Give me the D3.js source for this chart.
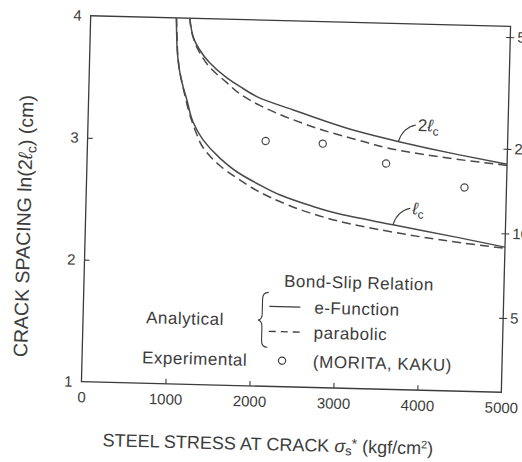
<!DOCTYPE html>
<html>
<head>
<meta charset="utf-8">
<script src="https://cdn.jsdelivr.net/npm/d3@7"></script>
<style>
  body { margin: 0; background: #fff; }
  svg text { font-family: "Liberation Sans", Arial, sans-serif; fill: #3c3c3c; }
</style>
</head>
<body>
<div id="chart"></div>
<script>
// tick values
const xTicks = [0, 1000, 2000, 3000, 4000, 5000];
const yTicks = [1, 2, 3, 4];
const rightTicks = [50, 20, 10, 5];   // 2lc in cm, placed at ln(value)

// [steel stress kgf/cm2, ln(2lc)]
const lc_eFunction = [[1020, 4.0], [1030, 3.85], [1042, 3.72], [1070, 3.58], [1120, 3.44], [1170, 3.33],
  [1250, 3.15], [1370, 3.01], [1580, 2.86], [1790, 2.75], [2030, 2.66], [2310, 2.57], [2670, 2.49],
  [3000, 2.43], [3660, 2.35], [4430, 2.26], [5000, 2.19]];
const lc_parabolic = [[1022, 4.0], [1034, 3.85], [1048, 3.70], [1080, 3.55], [1140, 3.38], [1200, 3.23],
  [1280, 3.08], [1380, 2.94], [1580, 2.80], [1790, 2.70], [2190, 2.55], [2670, 2.43], [3000, 2.37],
  [3660, 2.29], [4430, 2.22], [5000, 2.18]];
const twoLc_eFunction = [[1180, 4.0], [1200, 3.92], [1225, 3.85], [1300, 3.75], [1430, 3.64], [1640, 3.52],
  [1800, 3.45], [2040, 3.36], [2440, 3.27], [2800, 3.19], [3200, 3.11], [3720, 3.03], [4400, 2.94], [5000, 2.87]];
const twoLc_parabolic = [[1180, 4.0], [1210, 3.88], [1300, 3.73], [1450, 3.59], [1640, 3.48], [1800, 3.39],
  [2040, 3.30], [2400, 3.20], [2800, 3.11], [3200, 3.04], [3720, 2.96], [4400, 2.90], [5000, 2.86]];
// experimental (MORITA, KAKU)
const experimental = [[2120, 3.01], [2800, 3.00], [3560, 2.85], [4500, 2.67]];

const margin = {top: 21, right: 16, bottom: 75, left: 86};
const W = 522, H = 462;
const width = W - margin.left - margin.right;
const height = H - margin.top - margin.bottom;
const ink = "#3c3c3c";

const svg = d3.select("#chart").append("svg")
  .attr("width", W)
  .attr("height", H);

// the scanned figure is slightly tilted
const root = svg.append("g")
  .attr("transform", `rotate(1.45, ${margin.left + width / 2}, ${margin.top + height / 2})`);

const g = root.append("g")
  .attr("transform", `translate(${margin.left},${margin.top})`);

const x = d3.scaleLinear().domain([0, 5000]).range([0, width]);
const y = d3.scaleLinear().domain([1, 4]).range([height, 0]);

// frame
g.append("rect")
  .attr("width", width)
  .attr("height", height)
  .attr("fill", "none")
  .attr("stroke", ink)
  .attr("stroke-width", 1.3);

// bottom axis: inner ticks, labels below
const xAxis = g.append("g")
  .attr("transform", `translate(0,${height})`)
  .call(d3.axisBottom(x).tickValues(xTicks).tickSizeInner(-5).tickSizeOuter(0).tickPadding(10).tickFormat(d3.format("d")));
xAxis.select(".domain").remove();
xAxis.selectAll(".tick line").attr("stroke", ink).attr("stroke-width", 1.1)
  .filter(d => d === 0 || d === 5000).remove();
xAxis.selectAll("text").attr("font-size", 15).attr("fill", ink);

// left axis
const yAxis = g.append("g")
  .call(d3.axisLeft(y).tickValues(yTicks).tickSizeInner(-5).tickSizeOuter(0).tickPadding(9).tickFormat(d3.format("d")));
yAxis.select(".domain").remove();
yAxis.selectAll(".tick line").attr("stroke", ink).attr("stroke-width", 1.1)
  .filter(d => d === 1 || d === 4).remove();
yAxis.selectAll("text").attr("font-size", 15).attr("fill", ink);

// right axis: 2lc in cm, crossing ticks (labels run off the scan edge)
const yRight = g.append("g")
  .attr("transform", `translate(${width},0)`)
  .call(d3.axisRight(y).tickValues(rightTicks.map(Math.log)).tickSizeInner(4).tickSizeOuter(0).tickPadding(3)
    .tickFormat((d, i) => rightTicks[i]));
yRight.select(".domain").remove();
yRight.selectAll(".tick line").attr("x1", -4).attr("stroke", ink).attr("stroke-width", 1.1);
yRight.selectAll("text").attr("font-size", 15).attr("fill", ink);

// curves
const lineY = d3.line()
  .x(d => x(d[0]))
  .y(d => y(d[1]))
  .curve(d3.curveMonotoneY);

const series = [
  {data: lc_eFunction, dash: null},
  {data: lc_parabolic, dash: "9,5"},
  {data: twoLc_eFunction, dash: null},
  {data: twoLc_parabolic, dash: "9,5"}
];

series.forEach(s => {
  g.append("path")
    .datum(s.data)
    .attr("d", lineY)
    .attr("fill", "none")
    .attr("stroke", "#4a4a4a")
    .attr("stroke-width", 1.5)
    .attr("stroke-dasharray", s.dash);
});

// experimental points
g.selectAll(".exp")
  .data(experimental)
  .join("circle")
  .attr("class", "exp")
  .attr("cx", d => x(d[0]))
  .attr("cy", d => y(d[1]))
  .attr("r", 3.6)
  .attr("fill", "#fff")
  .attr("stroke", "#4a4a4a")
  .attr("stroke-width", 1.2);

// curve labels with leader lines
function valueAt(data, sx) {
  for (let i = 1; i < data.length; i++) {
    if (data[i][0] >= sx) {
      const t = (sx - data[i - 1][0]) / (data[i][0] - data[i - 1][0]);
      return data[i - 1][1] + t * (data[i][1] - data[i - 1][1]);
    }
  }
  return data[data.length - 1][1];
}

function curveLabel(data, sx, pre) {
  const px = x(sx), py = y(valueAt(data, sx));
  g.append("path")
    .attr("d", `M${px},${py} Q${px + 4},${py - 14} ${px + 17},${py - 17}`)
    .attr("fill", "none")
    .attr("stroke", ink)
    .attr("stroke-width", 1.1);
  const t = g.append("text")
    .attr("x", px + 19)
    .attr("y", py - 11)
    .attr("font-size", 17);
  t.append("tspan").text(pre);
  t.append("tspan").attr("font-style", "italic").text("ℓ");
  t.append("tspan").attr("font-size", 12).attr("dy", 4).text("c");
}
curveLabel(twoLc_eFunction, 3700, "2");
curveLabel(lc_eFunction, 3660, "");

// legend
const leg = g.append("g").attr("font-size", 17).attr("letter-spacing", 0.5);
leg.append("text").attr("x", 200).attr("y", 266).text("Bond-Slip Relation");
leg.append("text").attr("x", 63).attr("y", 306).text("Analytical");
leg.append("text").attr("x", 60).attr("y", 346).text("Experimental");
leg.append("path")
  .attr("d", "M185,272 Q179,272 179,279 L179,294 Q179,299 175,300 Q179,301 179,306 L179,320 Q179,327 185,327")
  .attr("fill", "none")
  .attr("stroke", ink)
  .attr("stroke-width", 1.1);
leg.append("line").attr("x1", 186).attr("x2", 217).attr("y1", 286).attr("y2", 286)
  .attr("stroke", ink).attr("stroke-width", 1.4);
leg.append("text").attr("x", 231).attr("y", 292).text("e-Function");
leg.append("line").attr("x1", 186).attr("x2", 217).attr("y1", 311).attr("y2", 311)
  .attr("stroke", ink).attr("stroke-width", 1.4).attr("stroke-dasharray", "7,5");
leg.append("text").attr("x", 231).attr("y", 317).text("parabolic");
leg.append("circle").attr("cx", 200).attr("cy", 340).attr("r", 3.6)
  .attr("fill", "#fff").attr("stroke", ink).attr("stroke-width", 1.2);
leg.append("text").attr("x", 231).attr("y", 346).text("(MORITA, KAKU)");

// axis titles
const xt = root.append("text")
  .attr("x", margin.left + width / 2 - 22)
  .attr("y", 451)
  .attr("text-anchor", "middle")
  .attr("font-size", 18);
xt.append("tspan").text("STEEL STRESS AT CRACK ");
xt.append("tspan").attr("font-style", "italic").text("σ");
xt.append("tspan").attr("font-size", 13).attr("dy", 3).text("s");
xt.append("tspan").attr("font-size", 14).attr("dy", -7).text("*");
xt.append("tspan").attr("dy", 4).text(" (kgf/cm");
xt.append("tspan").attr("font-size", 11).attr("dy", -6).text("2");
xt.append("tspan").attr("dy", 6).text(")");

const yt = root.append("text")
  .attr("transform", `translate(31,${margin.top + height / 2 + 29}) rotate(-90)`)
  .attr("text-anchor", "middle")
  .attr("font-size", 19.5);
yt.append("tspan").text("CRACK SPACING ln(2");
yt.append("tspan").attr("font-style", "italic").text("ℓ");
yt.append("tspan").attr("font-size", 14).attr("dy", 4).text("c");
yt.append("tspan").attr("dy", -4).text(") (cm)");
</script>
</body>
</html>
